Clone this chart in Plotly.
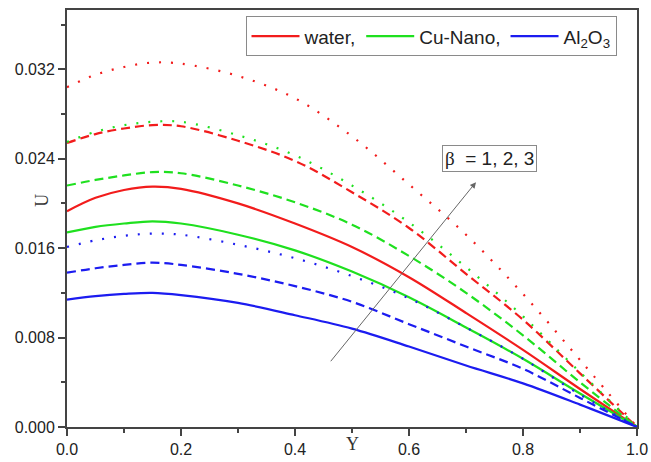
import plotly.graph_objects as go

# ---- data ----
Y = [0.0, 0.05, 0.1, 0.15, 0.2, 0.3, 0.4, 0.5, 0.6, 0.7, 0.8, 0.9, 1.0]

water_b1 = [0.0193, 0.0205, 0.0212, 0.0215, 0.0213, 0.0200, 0.0182, 0.0161, 0.0134, 0.0102, 0.0069, 0.0034, 0.0]
water_b2 = [0.0254, 0.0262, 0.0267, 0.0270, 0.0269, 0.0256, 0.0238, 0.0210, 0.0178, 0.0137, 0.0096, 0.0048, 0.0]
water_b3 = [0.0304, 0.0315, 0.0322, 0.0326, 0.0325, 0.0314, 0.0294, 0.0260, 0.0217, 0.0172, 0.0119, 0.0060, 0.0]

cu_b1 = [0.0174, 0.0179, 0.0182, 0.0184, 0.0182, 0.0172, 0.0158, 0.0139, 0.0116, 0.0089, 0.0061, 0.0030, 0.0]
cu_b2 = [0.0216, 0.0221, 0.0225, 0.0228, 0.0227, 0.0216, 0.0201, 0.0181, 0.0153, 0.0120, 0.0082, 0.0040, 0.0]
cu_b3 = [0.0255, 0.0264, 0.0270, 0.0273, 0.0273, 0.0261, 0.0243, 0.0216, 0.0183, 0.0143, 0.0099, 0.0049, 0.0]

al_b1 = [0.0114, 0.0117, 0.0119, 0.0120, 0.0118, 0.0111, 0.0100, 0.0088, 0.0072, 0.0055, 0.0039, 0.0020, 0.0]
al_b2 = [0.0138, 0.0142, 0.0145, 0.0147, 0.0145, 0.0137, 0.0126, 0.0112, 0.0092, 0.0072, 0.0052, 0.0026, 0.0]
al_b3 = [0.0161, 0.0167, 0.0171, 0.0173, 0.0172, 0.0163, 0.0151, 0.0135, 0.0115, 0.0089, 0.0061, 0.0029, 0.0]

legend_names = ["water,", "Cu-Nano,", "Al<sub>2</sub>O<sub>3</sub>"]
x_ticks = [0.0, 0.2, 0.4, 0.6, 0.8, 1.0]
y_ticks = [0.000, 0.008, 0.016, 0.024, 0.032]

RED = "#f21c1c"
GREEN = "#1fe01f"
BLUE = "#1c1cf0"

DOT = "2px,10px"
DASH = "9px,5px"
DASHDOT = "2px,10px"

series = [
    (water_b1, RED, "solid"), (water_b2, RED, DASH), (water_b3, RED, DOT),
    (cu_b1, GREEN, "solid"), (cu_b2, GREEN, DASH), (cu_b3, GREEN, DASHDOT),
    (al_b1, BLUE, "solid"), (al_b2, BLUE, DASH), (al_b3, BLUE, DOT),
]

fig = go.Figure()
for vals, col, dash in series:
    fig.add_trace(go.Scatter(
        x=Y, y=vals, mode="lines", showlegend=False,
        line=dict(color=col, width=2.2, dash=dash, shape="spline", smoothing=1.0),
        hoverinfo="skip"))

for name, col in zip(legend_names, [RED, GREEN, BLUE]):
    fig.add_trace(go.Scatter(x=[None], y=[None], mode="lines", name=name,
                             line=dict(color=col, width=2.2)))

AX = "#444444"
fig.update_xaxes(
    range=[0, 1], tickvals=x_ticks, tickformat=".1f",
    showline=True, linecolor=AX, linewidth=2, mirror=True,
    ticks="outside", ticklen=7, tickwidth=1.5, tickcolor=AX,
    minor=dict(dtick=0.1, ticks="outside", ticklen=4, tickwidth=1.5, tickcolor=AX),
    showgrid=False, zeroline=False, automargin=False,
    tickfont=dict(family="Liberation Sans, Arial", size=16, color="#222"),
)
fig.update_yaxes(
    range=[0, 0.0373], tickvals=y_ticks, tickformat=".3f",
    showline=True, linecolor=AX, linewidth=2, mirror=True,
    ticks="outside", ticklen=7, tickwidth=1.5, tickcolor=AX,
    minor=dict(dtick=0.004, ticks="outside", ticklen=4, tickwidth=1.5, tickcolor=AX),
    showgrid=False, zeroline=False, automargin=False,
    tickfont=dict(family="Liberation Sans, Arial", size=16, color="#222"),
)

fig.add_annotation(x=0.5, y=-0.04, xref="x", yref="paper", text="Y", showarrow=False,
                   font=dict(family="Liberation Serif, Times New Roman", size=18, color="#333"),
                   yanchor="middle")
fig.add_annotation(x=-0.064, y=0.544, xref="paper", yref="paper", text="U", showarrow=False,
                   textangle=-90,
                   font=dict(family="Liberation Serif, Times New Roman", size=18, color="#333"))

# beta arrow
fig.add_annotation(x=0.7175, y=0.0219, ax=0.4606, ay=0.00575, xref="x", yref="y",
                   axref="x", ayref="y", text="", showarrow=True, arrowhead=2,
                   arrowsize=1.2, arrowwidth=1, arrowcolor="#666666", standoff=0)
fig.add_annotation(x=0.7408, y=0.0240, xref="x", yref="y",
                   text="<span style='font-family:Liberation Serif'>β</span>&nbsp;&nbsp;= 1, 2, 3",
                   showarrow=False, bordercolor="#8a8a8a", borderwidth=1, borderpad=2,
                   bgcolor="white",
                   font=dict(family="Liberation Sans, Arial", size=19, color="#222"))

fig.update_layout(
    width=651, height=462,
    margin=dict(l=67, r=14, t=10, b=35, autoexpand=False),
    paper_bgcolor="white", plot_bgcolor="white",
    legend=dict(orientation="h", x=0.6386, xanchor="center", y=0.985, yanchor="top",
                bordercolor="#8a8a8a", borderwidth=1, bgcolor="white",
                itemwidth=48, tracegroupgap=0,
                font=dict(family="Liberation Sans, Arial", size=19, color="#222")),
)

fig.write_html("out.html")
